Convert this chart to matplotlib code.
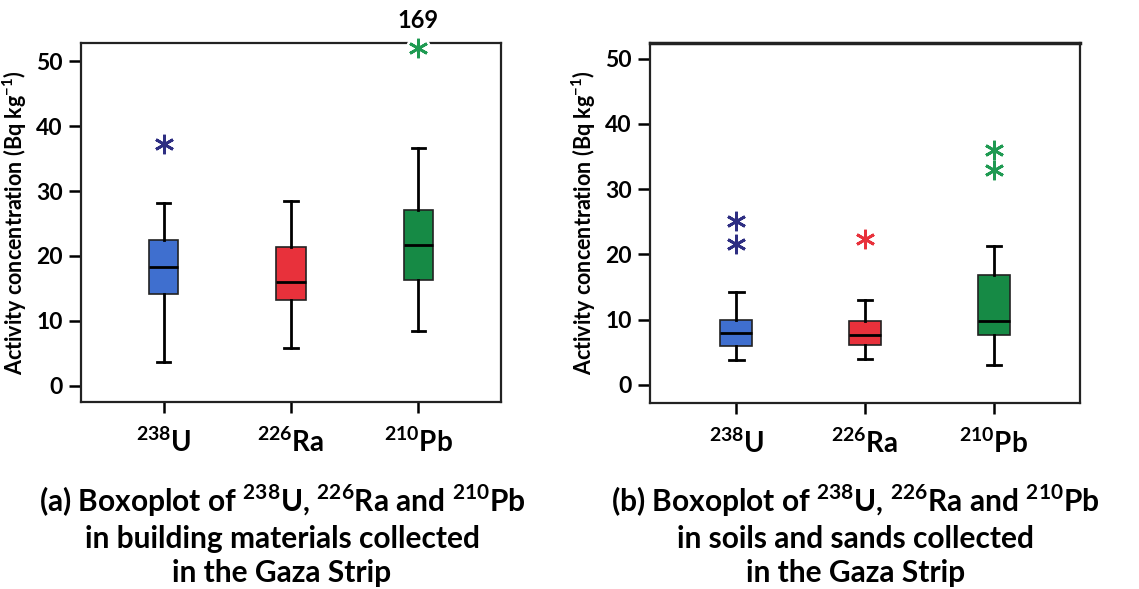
import matplotlib
matplotlib.use("Agg")
import matplotlib.pyplot as plt

plt.rcParams['font.family'] = ['Lato', 'DejaVu Sans']
plt.rcParams['mathtext.fontset'] = 'custom'
plt.rcParams['mathtext.rm'] = 'Lato:bold'
plt.rcParams['mathtext.bf'] = 'Lato:bold'

nuclides = ["$^{238}$U", "$^{226}$Ra", "$^{210}$Pb"]
box_colors = ["#3f6fcf", "#e8313b", "#168a45"]
flier_colors = ["#2e2e82", "#e8313b", "#1f9a52"]

# Panel (a): building materials  [whislo, q1, med, q3, whishi]
bm_stats = [[3.7, 14.2, 18.3, 22.5, 28.2],
            [5.8, 13.2, 16.0, 21.4, 28.5],
            [8.4, 16.3, 21.7, 27.1, 36.7]]
bm_fliers = [[37.2], [], [52.0]]
bm_flier_label = "169"

# Panel (b): soils and sands
ss_stats = [[3.8, 6.0, 8.0, 9.95, 14.2],
            [3.9, 6.1, 7.6, 9.8, 13.0],
            [3.1, 7.7, 9.75, 16.8, 21.3]]
ss_fliers = [[25.1, 21.6], [22.3], [36.0, 32.9]]

captions = ["(a) Boxoplot of $^{238}$U, $^{226}$Ra and $^{210}$Pb\nin building materials collected\nin the Gaza Strip",
            "(b) Boxoplot of $^{238}$U, $^{226}$Ra and $^{210}$Pb\nin soils and sands collected\nin the Gaza Strip"]

fig = plt.figure(figsize=(11.39, 5.89), dpi=100)
ax_a = fig.add_axes([0.0711, 0.3175, 0.3688, 0.6095])
ax_b = fig.add_axes([0.5707, 0.3158, 0.3775, 0.6112])


def draw(ax, stats, fliers, ylim, xlim, width):
    data = []
    for s in stats:
        data.append(dict(whislo=s[0], q1=s[1], med=s[2], q3=s[3], whishi=s[4], fliers=[]))
    bp = ax.bxp(data, positions=[1, 2, 3], widths=width, patch_artist=True,
                showfliers=False, capwidths=width * 0.45,
                medianprops=dict(color="black", lw=2),
                whiskerprops=dict(color="black", lw=2),
                capprops=dict(color="black", lw=2),
                boxprops=dict(lw=1.2))
    for patch, c in zip(bp['boxes'], box_colors):
        patch.set_facecolor(c)
        patch.set_edgecolor("#222222")
    for i, (fl, c) in enumerate(zip(fliers, flier_colors)):
        if fl:
            ax.plot([i + 1] * len(fl), fl, linestyle="none", marker=(6, 2, 0),
                    markersize=14, mec=c, mew=2.0, clip_on=False, zorder=5)
    ax.set_ylim(*ylim)
    ax.set_xlim(*xlim)
    ax.set_yticks([0, 10, 20, 30, 40, 50])
    ax.set_xticks([1, 2, 3])
    ax.set_xticklabels(nuclides, fontsize=20, fontweight="bold")
    ax.tick_params(axis="y", labelsize=16.5, width=1.8, length=9, pad=4)
    ax.tick_params(axis="x", width=1.8, length=8, pad=10)
    for lab in ax.get_yticklabels():
        lab.set_fontweight("bold")
    ax.set_ylabel("Activity concentration (Bq kg$^{-1}$)", fontsize=15.5,
                  fontweight="bold", labelpad=5)
    for sp in ax.spines.values():
        sp.set_linewidth(1.6)
        sp.set_color("#222222")


draw(ax_a, bm_stats, bm_fliers, (-2.5, 52.8), (0.35, 3.65), 0.23)
draw(ax_b, ss_stats, ss_fliers, (-2.8, 52.4), (0.33, 3.67), 0.25)
ax_b.spines['top'].set_linewidth(2.5)

# white gap behind extreme flier on top spine
ax_a.plot([3], [bm_fliers[2][0]], marker="o", markersize=17, mfc="white", mec="white",
          linestyle="none", clip_on=False, zorder=4)
ax_a.annotate(bm_flier_label, xy=(3, bm_fliers[2][0]), xytext=(0, 20),
              textcoords="offset points", ha="center", va="center",
              fontsize=17, fontweight="bold", annotation_clip=False)

fig.text(0.2476, 0.0917, captions[0], ha="center", va="center", fontsize=21.5,
         fontweight="bold", linespacing=1.25)
fig.text(0.751, 0.0917, captions[1], ha="center", va="center", fontsize=21.5,
         fontweight="bold", linespacing=1.25)

fig.savefig("out.png", dpi=100)
